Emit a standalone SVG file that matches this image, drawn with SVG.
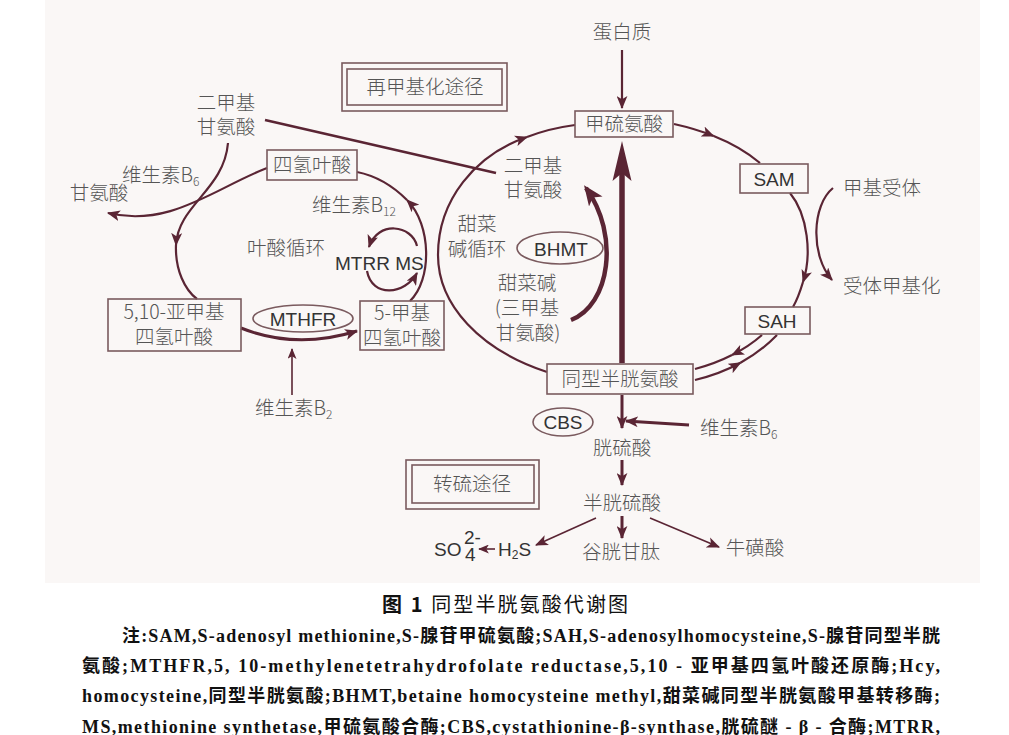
<svg xmlns="http://www.w3.org/2000/svg" width="1009" height="735" viewBox="0 0 1009 735">
<style>
.ln{fill:none;stroke:#5a2534;stroke-width:2.2}
.th{fill:none;stroke:#5a2534;stroke-width:3}
.tn{fill:none;stroke:#5a2534;stroke-width:1.6}
.box{fill:none;stroke:#7a5a5e;stroke-width:1.6}
.cn{font-family:"Noto Sans CJK SC","Noto Sans",sans-serif;font-size:19.5px;fill:#555;font-weight:300}
.en{font-family:"Liberation Sans",Arial,sans-serif;font-size:19px;fill:#333}
.c{text-anchor:middle}
.cap{font-family:"Noto Sans CJK SC",sans-serif;font-size:20px;fill:#111}
.note{font-family:"Liberation Serif","Noto Sans CJK SC",serif;font-size:18px;fill:#111;font-weight:bold}
</style>
<defs>
<marker id="ah" viewBox="0 0 12 10" refX="11" refY="5" markerWidth="13" markerHeight="11" markerUnits="userSpaceOnUse" orient="auto"><path d="M0,0 L12,5 L0,10 L3,5 z" fill="#5a2534"/></marker>
<marker id="ahs" viewBox="0 0 12 10" refX="11" refY="5" markerWidth="11" markerHeight="9" markerUnits="userSpaceOnUse" orient="auto"><path d="M0,0 L12,5 L0,10 L3,5 z" fill="#5a2534"/></marker>
<marker id="ahl" viewBox="0 0 12 10" refX="10" refY="5" markerWidth="20" markerHeight="17" markerUnits="userSpaceOnUse" orient="auto"><path d="M0,0 L12,5 L0,10 L3,5 z" fill="#5a2534"/></marker>
</defs>
<rect x="0" y="0" width="1009" height="735" fill="#ffffff"/>
<rect x="45" y="0" width="935" height="583" fill="#faf7f6"/>

<g id="connectors">
<path class="ln" d="M622,50 L622,108" marker-end="url(#ah)"/>
<path class="ln" d="M674,124 Q695.6,128.8 713.7,136" marker-end="url(#ah)"/>
<path class="ln" d="M713.7,136 Q740.8,146.8 760,163"/>
<path class="ln" d="M790,193 C808,215 812,255 803,282" marker-end="url(#ah)"/>
<path class="ln" d="M803,282 C800,292 797,300 793,307"/>
<path class="ln" d="M833,188 C812,205 810,255 832,280" marker-end="url(#ah)"/>
<path class="ln" d="M762,335 Q749,346.5 732,355" marker-end="url(#ah)"/>
<path class="ln" d="M732,355 Q715.5,363.5 695,369"/>
<path class="ln" d="M695,380 Q720,374 740.5,362.75" marker-end="url(#ah)"/>
<path class="ln" d="M740.5,362.75 Q761,351.5 777,335"/>
<path fill="none" stroke="#5a2534" stroke-width="5.5" d="M622,363 L622,172"/>
<path fill="#5a2534" d="M622,141 L631.5,181 L622,173 L612.5,181 z"/>
<path class="ln" d="M547,372 C480,350 438,305 438,255 C438,200 475,155 527,137" marker-end="url(#ah)"/>
<path class="ln" d="M527,137 C545,130 560,127 575,125"/>
<path fill="none" stroke="#5a2534" stroke-width="2.6" d="M265,120 L496,173"/>
<path fill="none" stroke="#5a2534" stroke-width="4.5" d="M571,320 C610,305 620,235 586,188" marker-end="url(#ahl)"/>
<path class="ln" d="M410,301 C432,280 432,225 407,200" marker-end="url(#ah)"/>
<path class="ln" d="M407,200 C393,186 377,176 357,172"/>
<path class="ln" d="M228,143 C224,190 178,205 176,245" marker-end="url(#ah)"/>
<path class="ln" d="M176,245 C175,270 185,290 197,299"/>
<path class="ln" d="M267,168 C215,188 170,228 108,213" marker-end="url(#ah)"/>
<path class="th" d="M241,328 Q296,350 357,331" marker-end="url(#ah)"/>
<path class="tn" d="M292,395 L292,349" marker-end="url(#ahs)"/>
<path class="ln" d="M417,246 C412,225 378,220 369,247" marker-end="url(#ah)"/>
<path class="ln" d="M367,271 C372,298 405,295 417,273" marker-end="url(#ah)"/>
<path class="th" d="M622,395 L622,428" marker-end="url(#ah)"/>
<path class="th" d="M689,425 L626,421" marker-end="url(#ah)"/>
<path class="th" d="M622,460 L622,485" marker-end="url(#ah)"/>
<path class="tn" d="M596,518 L536,545" marker-end="url(#ah)"/>
<path class="th" d="M622,516 L622,538" marker-end="url(#ah)"/>
<path class="tn" d="M650,518 L719,547" marker-end="url(#ah)"/>
<path class="tn" d="M495,549 L479,549" marker-end="url(#ahs)"/>
</g>

<g id="protein"><text class="cn c" x="622" y="39">蛋白质</text></g>
<g id="remethylation">
<rect class="box" x="342" y="63" width="165" height="48"/>
<rect class="box" x="347" y="69" width="155" height="36"/>
<text class="cn c" x="425" y="94">再甲基化途径</text>
</g>
<g id="dmg-left"><text class="cn c" x="226" y="110">二甲基</text><text class="cn c" x="226" y="134">甘氨酸</text></g>
<g id="b6-left"><text class="cn" x="122" y="182">维生素B<tspan font-size="12" dy="4">6</tspan></text></g>
<g id="glycine"><text class="cn c" x="99" y="200">甘氨酸</text></g>
<g id="thf"><rect class="box" x="267" y="150" width="90" height="30"/><text class="cn c" x="312" y="172">四氢叶酸</text></g>
<g id="b12"><text class="cn" x="312" y="212">维生素B<tspan font-size="12" dy="4">12</tspan></text></g>
<g id="folate-cycle"><text class="cn c" x="286" y="255">叶酸循环</text></g>
<g id="mtrr-ms"><text class="en" x="335" y="270">MTRR MS</text></g>
<g id="methylene-thf"><rect class="box" x="108" y="299" width="133" height="52"/><text class="cn c" x="174" y="319">5,10-亚甲基</text><text class="cn c" x="174" y="344">四氢叶酸</text></g>
<g id="mthfr"><ellipse class="box" cx="303" cy="318.5" rx="50" ry="13.5"/><text class="en c" x="303" y="326">MTHFR</text></g>
<g id="methyl-thf"><rect class="box" x="360" y="301" width="84" height="49"/><text class="cn c" x="402" y="320">5-甲基</text><text class="cn c" x="402" y="345">四氢叶酸</text></g>
<g id="b2"><text class="cn" x="255" y="415">维生素B<tspan font-size="12" dy="4">2</tspan></text></g>
<g id="dmg-inner"><text class="cn c" x="533" y="173">二甲基</text><text class="cn c" x="533" y="197">甘氨酸</text></g>
<g id="betaine-cycle"><text class="cn c" x="477" y="231">甜菜</text><text class="cn c" x="477" y="256">碱循环</text></g>
<g id="bhmt"><ellipse class="box" cx="560" cy="248" rx="43" ry="16"/><text class="en c" x="561" y="256">BHMT</text></g>
<g id="betaine"><text class="cn c" x="527" y="290">甜菜碱</text><text class="cn c" x="527" y="315">(三甲基</text><text class="cn c" x="528" y="340">甘氨酸)</text></g>
<g id="methionine"><rect class="box" x="575" y="111" width="98" height="26"/><text class="cn c" x="624" y="131">甲硫氨酸</text></g>
<g id="sam"><rect class="box" x="740" y="164" width="68" height="29"/><text class="en c" x="774" y="186">SAM</text></g>
<g id="acceptor"><text class="cn c" x="882" y="195">甲基受体</text></g>
<g id="methylated"><text class="cn" x="843" y="293">受体甲基化</text></g>
<g id="sah"><rect class="box" x="745" y="307" width="65" height="27"/><text class="en c" x="777" y="328">SAH</text></g>
<g id="hcy"><rect class="box" x="547" y="364" width="146" height="30"/><text class="cn c" x="620" y="386">同型半胱氨酸</text></g>
<g id="cbs"><ellipse class="box" cx="563" cy="422" rx="30" ry="14"/><text class="en c" x="563" y="429">CBS</text></g>
<g id="b6-right"><text class="cn" x="700" y="435">维生素B<tspan font-size="12" dy="4">6</tspan></text></g>
<g id="cystathionine"><text class="cn c" x="622" y="455">胱硫酸</text></g>
<g id="transsulfuration">
<rect class="box" x="406" y="460" width="133" height="49"/>
<rect class="box" x="412" y="465" width="122" height="38"/>
<text class="cn c" x="472" y="491">转硫途径</text>
</g>
<g id="cysteine"><text class="cn c" x="622" y="510">半胱硫酸</text></g>
<g id="glutathione"><text class="cn c" x="621" y="559">谷胱甘肽</text></g>
<g id="taurine"><text class="cn c" x="755" y="555">牛磺酸</text></g>
<g id="so4"><text class="en" x="434" y="556" font-size="20">SO</text><text class="en" x="464" y="544" font-size="10">2-</text><text class="en" x="465" y="561" font-size="10">4</text></g>
<g id="h2s"><text class="en" x="498" y="556">H<tspan font-size="12" dy="3">2</tspan><tspan dy="-3">S</tspan></text></g>

<g id="caption">
<text class="cap" x="382" y="612" textLength="246" lengthAdjust="spacing"><tspan font-weight="bold">图 1</tspan> 同型半胱氨酸代谢图</text>
</g>
<g id="notes">
<text class="note" x="122" y="642" textLength="818" lengthAdjust="spacing">注:SAM,S-adenosyl methionine,S-腺苷甲硫氨酸;SAH,S-adenosylhomocysteine,S-腺苷同型半胱</text>
<text class="note" x="82" y="672" textLength="858" lengthAdjust="spacing">氨酸;MTHFR,5, 10-methylenetetrahydrofolate  reductase,5,10 - 亚甲基四氢叶酸还原酶;Hcy,</text>
<text class="note" x="82" y="702" textLength="858" lengthAdjust="spacing">homocysteine,同型半胱氨酸;BHMT,betaine homocysteine methyl,甜菜碱同型半胱氨酸甲基转移酶;</text>
<text class="note" x="82" y="733" textLength="858" lengthAdjust="spacing">MS,methionine synthetase,甲硫氨酸合酶;CBS,cystathionine-β-synthase,胱硫醚 - β - 合酶;MTRR,</text>
</g>
</svg>
